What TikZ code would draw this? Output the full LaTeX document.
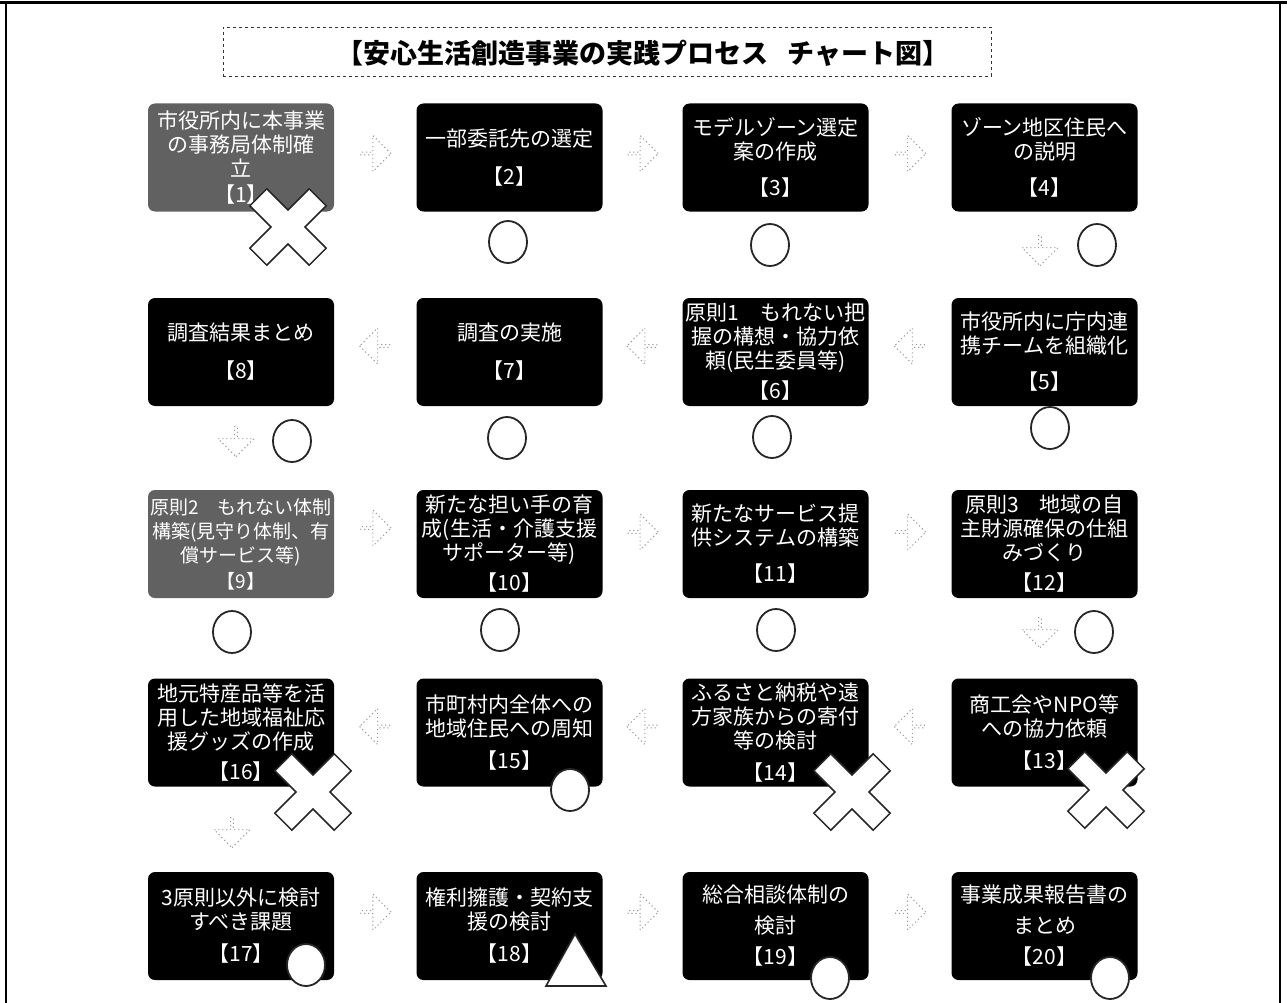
\documentclass[tikz,border=0pt]{standalone}
\usepackage{fontspec}
\setmainfont{Noto Sans CJK JP}
\usetikzlibrary{shapes.geometric,shapes.arrows,calc}
\tikzset{
  stepbox/.style={fill=black, rounded corners=7pt, minimum width=186pt, minimum height=108pt,
    text=white, align=center, inner sep=0pt, font=\fontsize{21}{24}\selectfont},
  graybox/.style={stepbox, fill=black!62},
  okmark/.style={ellipse, minimum width=38pt, minimum height=42pt, draw=black!85,
    line width=1.8pt, fill=white, inner sep=0pt},
  ngmark/.style={draw=black!85, line width=1.5pt, fill=white, line join=miter},
  trimark/.style={draw=black!85, line width=1.6pt, fill=white, line join=miter},
  flowarrow/.style={single arrow, draw=black!40, dash pattern=on 1.2pt off 2.8pt,
    line width=1pt, minimum width=36pt, minimum height=30pt,
    single arrow head extend=6pt, inner sep=0pt},
  toright/.style={flowarrow, shape border rotate=0},
  toleft/.style={flowarrow, shape border rotate=180},
  todown/.style={flowarrow, shape border rotate=270},
}
\newcommand{\ngx}[2]{\draw[ngmark, shift={(#1,#2)}, rotate=45]
  (-12,-12) -- (-12,-42) -- (12,-42) -- (12,-12) -- (42,-12) -- (42,12) -- (12,12)
  -- (12,42) -- (-12,42) -- (-12,12) -- (-42,12) -- (-42,-12) -- cycle;}
\begin{document}
\begin{tikzpicture}[x=1pt,y=-1pt]
\useasboundingbox (0,0) rectangle (1287,1003);
\fill[white] (0,0) rectangle (1287,1003);
% outer frame
\draw[line width=3pt] (0,3) -- (1287,3);
\draw[line width=2pt] (6,3) -- (6,1003);
\draw[line width=2pt] (1280,3) -- (1280,1003);
% title
\node[draw=black!80, dashed, line width=0.8pt, minimum width=768pt, minimum height=49pt, inner sep=0pt] (tframe) at (607,51.5) {};
\node[font=\bfseries\fontsize{27}{27}\selectfont, inner sep=0pt] (title) at (643,53) {【安心生活創造事業の実践プロセス\hspace{0.7em}チャート図】};

% boxes row 1
\node[graybox] (b1) at (241,157.5) {市役所内に本事業\\の事務局体制確\\立\\[2pt]【1】};
\node[stepbox] (b2) at (509.5,157.5) {一部委託先の選定\\[14pt]【2】};
\node[stepbox] (b3) at (775.5,157.5) {モデルゾーン選定\\案の作成\\[12pt]【3】};
\node[stepbox] (b4) at (1044.5,157.5) {ゾーン地区住民へ\\の説明\\[12pt]【4】};
% row 2
\node[stepbox] (b5) at (1044.5,352) {市役所内に庁内連\\携チームを組織化\\[12pt]【5】};
\node[stepbox] (b6) at (775.5,352) {原則1　もれない把\\握の構想・協力依\\頼(民生委員等)\\[6pt]【6】};
\node[stepbox] (b7) at (509.5,352) {調査の実施\\[14pt]【7】};
\node[stepbox] (b8) at (241,352) {調査結果まとめ\\[14pt]【8】};
% row 3
\node[graybox, font=\fontsize{19}{24}\selectfont] (b9) at (241,544) {原則2　もれない体制\\構築(見守り体制、有\\償サービス等)\\[2pt]【9】};
\node[stepbox] (b10) at (509.5,544) {新たな担い手の育\\成(生活・介護支援\\サポーター等)\\[6pt]【10】};
\node[stepbox] (b11) at (775.5,544) {新たなサービス提\\供システムの構築\\[12pt]【11】};
\node[stepbox] (b12) at (1044.5,544) {原則3　地域の自\\主財源確保の仕組\\みづくり\\[6pt]【12】};
% row 4
\node[stepbox] (b13) at (1044.5,732.5) {商工会やNPO等\\への協力依頼\\[8pt]【13】};
\node[stepbox] (b14) at (775.5,732.5) {ふるさと納税や遠\\方家族からの寄付\\等の検討\\[8pt]【14】};
\node[stepbox] (b15) at (509.5,732.5) {市町村内全体への\\地域住民への周知\\[8pt]【15】};
\node[stepbox] (b16) at (241,732.5) {地元特産品等を活\\用した地域福祉応\\援グッズの作成\\[6pt]【16】};
% row 5
\node[stepbox] (b17) at (241,926) {3原則以外に検討\\すべき課題\\[8pt]【17】};
\node[stepbox] (b18) at (509.5,926) {権利擁護・契約支\\援の検討\\[8pt]【18】};
\node[stepbox] (b19) at (775.5,926) {総合相談体制の\\[7pt]検討\\[7pt]【19】};
\node[stepbox] (b20) at (1044.5,926) {事業成果報告書の\\[7pt]まとめ\\[7pt]【20】};

% flow arrows
\node[toright] (a12) at ($($(b1.east)!0.5!(b2.west)$)+(0,-4)$) {};
\node[toright] (a23) at ($($(b2.east)!0.5!(b3.west)$)+(0,-4)$) {};
\node[toright] (a34) at ($($(b3.east)!0.5!(b4.west)$)+(0,-4)$) {};
\node[todown] (a45) at (1040,250) {};
\node[toleft] (a56) at ($($(b5.west)!0.5!(b6.east)$)+(0,-6)$) {};
\node[toleft] (a67) at ($($(b6.west)!0.5!(b7.east)$)+(0,-6)$) {};
\node[toleft] (a78) at ($($(b7.west)!0.5!(b8.east)$)+(0,-6)$) {};
\node[todown] (a89) at (236,441) {};
\node[toright] (a910) at ($($(b9.east)!0.5!(b10.west)$)+(0,-16)$) {};
\node[toright] (a1011) at ($($(b10.east)!0.5!(b11.west)$)+(0,-12)$) {};
\node[toright] (a1112) at ($($(b11.east)!0.5!(b12.west)$)+(0,-12)$) {};
\node[todown] (a1213) at (1040,632) {};
\node[toleft] (a1314) at ($($(b13.west)!0.5!(b14.east)$)+(0,-6)$) {};
\node[toleft] (a1415) at ($($(b14.west)!0.5!(b15.east)$)+(0,-6)$) {};
\node[toleft] (a1516) at ($($(b15.west)!0.5!(b16.east)$)+(0,-6)$) {};
\node[todown] (a1617) at (232,832) {};
\node[toright] (a1718) at ($($(b17.east)!0.5!(b18.west)$)+(0,-14)$) {};
\node[toright] (a1819) at ($($(b18.east)!0.5!(b19.west)$)+(0,-14)$) {};
\node[toright] (a1920) at ($($(b19.east)!0.5!(b20.west)$)+(0,-14)$) {};

% evaluation marks
\ngx{288}{227}
\node[okmark] (m2) at (508,242) {};
\node[okmark] (m3) at (770,245) {};
\node[okmark] (m4) at (1097,245) {};
\node[okmark] (m5) at (1050,428) {};
\node[okmark] (m6) at (772,437) {};
\node[okmark] (m7) at (507,438) {};
\node[okmark] (m8) at (292,441) {};
\node[okmark] (m9) at (232,632) {};
\node[okmark] (m10) at (500,630) {};
\node[okmark] (m11) at (776,630) {};
\node[okmark] (m12) at (1094,632) {};
\ngx{1106}{790}
\ngx{852}{792}
\node[okmark] (m15) at (570,790) {};
\ngx{313}{792}
\node[okmark] (m17) at (306,965) {};
\draw[trimark] (575,934) -- (606,986) -- (546,986) -- cycle;
\node[okmark] (m19) at (830,978) {};
\node[okmark] (m20) at (1110,978) {};
\end{tikzpicture}
\end{document}
